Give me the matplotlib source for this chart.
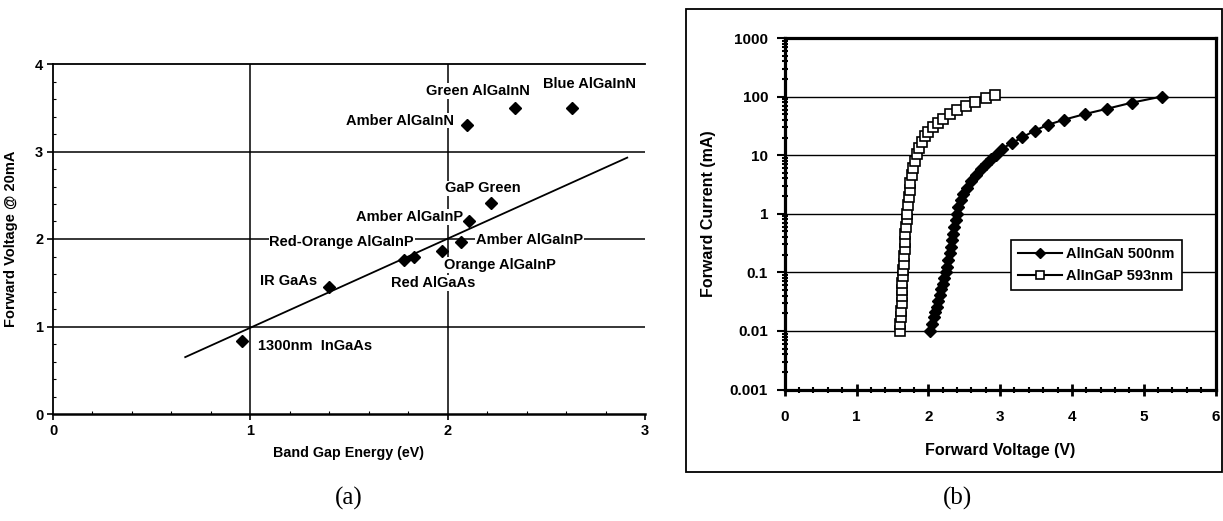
import matplotlib
matplotlib.use("Agg")
import matplotlib.pyplot as plt
from matplotlib.patches import Rectangle
from matplotlib.ticker import FixedLocator, FixedFormatter, MultipleLocator, LogLocator, NullFormatter

plt.rcParams['font.family'] = ['Liberation Sans', 'DejaVu Sans']

# ---------------- data: panel (a) ----------------
a_labels = ["1300nm  InGaAs", "IR GaAs", "Red AlGaAs", "Red-Orange AlGaInP",
            "Orange AlGaInP", "Amber AlGaInP", "Amber AlGaInP", "GaP Green",
            "Amber AlGaInN", "Green AlGaInN", "Blue AlGaInN"]
a_energy = [0.96, 1.40, 1.78, 1.83, 1.97, 2.07, 2.11, 2.22, 2.10, 2.34, 2.63]
a_voltage = [0.84, 1.45, 1.76, 1.80, 1.86, 1.97, 2.20, 2.41, 3.30, 3.50, 3.50]
a_fit_x = [0.67, 2.91]
a_fit_y = [0.65, 2.93]
a_xticks = [0, 1, 2, 3]
a_yticks = [0, 1, 2, 3, 4]

# ---------------- data: panel (b) ----------------
gan_v = [2.02, 2.05, 2.08, 2.10, 2.12, 2.14, 2.16, 2.18, 2.20, 2.22, 2.24, 2.26,
         2.28, 2.30, 2.31, 2.33, 2.34, 2.36, 2.38, 2.40, 2.42, 2.45, 2.49, 2.54,
         2.60, 2.67, 2.73, 2.80, 2.87, 2.94, 3.02, 3.17, 3.31, 3.48, 3.67, 3.89,
         4.18, 4.49, 4.84, 5.25]
gan_i = [0.010, 0.013, 0.017, 0.021, 0.026, 0.033, 0.041, 0.052, 0.064, 0.080,
         0.10, 0.125, 0.16, 0.21, 0.27, 0.35, 0.45, 0.59, 0.77, 1.0, 1.3, 1.7,
         2.2, 2.8, 3.6, 4.6, 5.9, 7.2, 8.6, 10.2, 12.8, 16.2, 20.2, 26.2, 33.1,
         40.3, 50.3, 62.0, 79.0, 100.0]
gap_v = [1.60, 1.61, 1.62, 1.62, 1.63, 1.63, 1.64, 1.64, 1.65, 1.65, 1.66, 1.66,
         1.67, 1.67, 1.68, 1.69, 1.70, 1.71, 1.72, 1.73, 1.74, 1.75, 1.77, 1.79,
         1.81, 1.84, 1.87, 1.91, 1.95, 2.00, 2.06, 2.13, 2.20, 2.30, 2.40, 2.52,
         2.65, 2.80, 2.93]
gap_i = [0.010, 0.013, 0.017, 0.022, 0.030, 0.040, 0.050, 0.065, 0.085, 0.11,
         0.14, 0.19, 0.25, 0.33, 0.45, 0.60, 0.80, 1.0, 1.4, 1.9, 2.5, 3.3, 4.5,
         6.0, 8.0, 10.5, 13.0, 17.0, 21.0, 25.0, 30.0, 36.0, 42.0, 50.0, 58.0,
         68.0, 82.0, 95.0, 105.0]
b_series_names = ["AlInGaN 500nm", "AlInGaP 593nm"]
b_yticks = [0.001, 0.01, 0.1, 1, 10, 100, 1000]
b_yticklabels = ["0.001", "0.01", "0.1", "1", "10", "100", "1000"]
b_xticks = [0, 1, 2, 3, 4, 5, 6]

# ---------------- figure ----------------
W, H = 1223, 521
fig = plt.figure(figsize=(W / 100, H / 100), dpi=100)

def box(l, r, t, b):
    return [l / W, 1 - b / H, (r - l) / W, (b - t) / H]

# ---------- panel (a) ----------
ax = fig.add_axes(box(53, 645, 64, 414))
ax.set_xlim(0, 3)
ax.set_ylim(0, 4)
for yv in a_yticks[1:-1]:
    ax.axhline(yv, color='black', lw=1.1, zorder=1)
for xv in a_xticks[1:-1]:
    ax.axvline(xv, color='black', lw=1.1, zorder=1)
ax.spines['right'].set_visible(False)
ax.spines['top'].set_linewidth(1.3)
ax.spines['left'].set_linewidth(1.3)
ax.spines['bottom'].set_linewidth(1.8)
ax.set_xticks(a_xticks)
ax.set_yticks(a_yticks)
ax.xaxis.set_minor_locator(MultipleLocator(0.2))
ax.yaxis.set_minor_locator(MultipleLocator(0.2))
ax.tick_params(which='major', direction='out', length=4, width=1.2,
               labelsize=10.5, pad=3)
ax.tick_params(which='minor', direction='in', length=2.5, width=0.8)
for lab in ax.get_xticklabels() + ax.get_yticklabels():
    lab.set_fontweight('bold')

ax.plot(a_fit_x, a_fit_y, color='black', lw=1.3, zorder=2)
ax.plot(a_energy, a_voltage, linestyle='none', marker='D', ms=6.5,
        color='black', zorder=5)

a_offsets = [(11.2, -3.6, 'left'), (-8.9, 4.6, 'right'), (-9.6, -16.5, 'left'),
             (0.0, 10.5, 'right'), (1.5, -9.9, 'left'), (10.4, 1.1, 'left'),
             (-4.7, 3.2, 'right'), (-6.0, 10.7, 'center'), (-9.7, 3.3, 'right'),
             (-26.6, 12.2, 'center'), (12.8, 17.3, 'center')]
for lab, xv, yv, (dx, dy, ha) in zip(a_labels, a_energy, a_voltage, a_offsets):
    ax.annotate(lab, (xv, yv), xytext=(dx, dy), textcoords='offset points',
                ha=ha, va='center', fontsize=10.5, fontweight='bold', zorder=4,
                bbox=dict(boxstyle='square,pad=0.05', fc='white', ec='none'))

ax.set_xlabel("Band Gap Energy (eV)", fontsize=10.3, fontweight='bold', labelpad=6)
ax.set_ylabel("Forward Voltage @ 20mA", fontsize=10.5, fontweight='bold', labelpad=12)
fig.text(349 / W, 1 - 498 / H, "(a)", family=['Liberation Serif', 'DejaVu Serif'],
         fontsize=18, ha='center', va='center')

# ---------- panel (b) ----------
fig.patches.append(Rectangle((686 / W, 1 - 472 / H), (1222 - 686) / W, (472 - 9) / H,
                             transform=fig.transFigure, fill=False, lw=1.3,
                             edgecolor='black'))
bx = fig.add_axes(box(784.7, 1215.5, 38, 389.5))
bx.set_yscale('log')
bx.set_xlim(0, 6)
bx.set_ylim(0.001, 1000)
for yv in b_yticks[1:-1]:
    bx.axhline(yv, color='black', lw=1.0, zorder=1)
for s in bx.spines.values():
    s.set_linewidth(2.3)
bx.yaxis.set_major_locator(FixedLocator(b_yticks))
bx.yaxis.set_major_formatter(FixedFormatter(b_yticklabels))
bx.yaxis.set_minor_locator(LogLocator(base=10, subs=range(2, 10), numticks=20))
bx.yaxis.set_minor_formatter(NullFormatter())
bx.set_xticks(b_xticks)
bx.xaxis.set_minor_locator(MultipleLocator(0.2))
bx.tick_params(which='major', direction='inout', length=9, width=2,
               labelsize=11, pad=10)
bx.tick_params(axis='y', which='major', direction='out', length=6, width=1.5, pad=6)
bx.tick_params(which='minor', direction='inout', length=4, width=1.5)
for lab in bx.get_xticklabels() + bx.get_yticklabels():
    lab.set_fontweight('bold')

bx.plot(gan_v, gan_i, color='black', lw=1.5, marker='D', ms=6.5,
        mfc='black', mec='black', label=b_series_names[0], zorder=3)
bx.plot(gap_v, gap_i, color='black', lw=1.5, marker='s', ms=7,
        mfc='white', mec='black', mew=1.2, label=b_series_names[1], zorder=3)

leg = bx.legend(loc='upper left', bbox_to_anchor=(0.525, 0.425), borderaxespad=0,
                fancybox=False, framealpha=1, edgecolor='black',
                prop={'size': 10.5, 'weight': 'bold'}, handlelength=3,
                borderpad=0.5, labelspacing=0.5, handletextpad=0.3, markerscale=0.8)
leg.get_frame().set_linewidth(1.2)

bx.set_xlabel("Forward Voltage (V)", fontsize=11.5, fontweight='bold', labelpad=14)
bx.set_ylabel("Forward Current (mA)", fontsize=11.5, fontweight='bold', labelpad=10)
fig.text(958 / W, 1 - 498 / H, "(b)", family=['Liberation Serif', 'DejaVu Serif'],
         fontsize=18, ha='center', va='center')

fig.savefig("out.png", dpi=100)
